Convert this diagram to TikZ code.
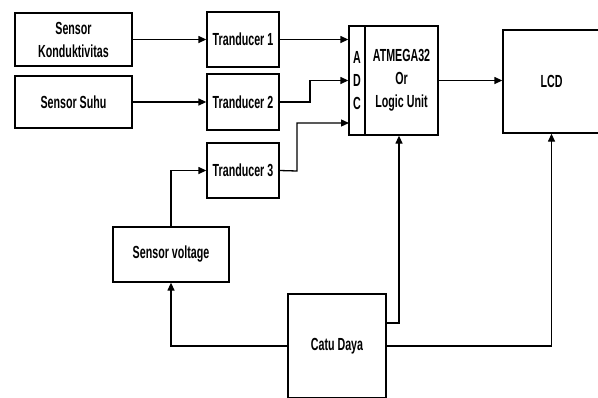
\documentclass[tikz,border=0pt]{standalone}
\usepackage{fontspec}
\newfontfamily\labfont[FakeStretch=0.61]{Liberation Sans}
\usetikzlibrary{arrows.meta}
\begin{document}
\begin{tikzpicture}[x=1pt,y=-1pt,
  box/.style={draw, line width=1.3pt, inner sep=0pt, align=center,
    font=\labfont\bfseries\fontsize{17.5}{23}\selectfont},
  arr/.style={-{Triangle[length=8pt,width=7pt]}, line width=1.3pt},
  ln/.style={line width=1.3pt}]
\useasboundingbox (0,0) rectangle (598,397);
\clip (0,0) rectangle (598,397);
\node[box, minimum width=117, minimum height=53] (sk) at (73.5,39.5) {Sensor\\Konduktivitas};
\node[box, minimum width=117, minimum height=52] (ss) at (73.5,102) {Sensor Suhu};
\node[box, minimum width=72, minimum height=55] (t1) at (243,39.5) {Tranducer 1};
\node[box, minimum width=72, minimum height=56] (t2) at (243,102) {Tranducer 2};
\node[box, minimum width=72, minimum height=55] (t3) at (243,170.5) {Tranducer 3};
\node[box, minimum width=16, minimum height=109] (adc) at (357,80.5) {A\\D\\C};
\node[box, minimum width=73, minimum height=109] (atm) at (401.5,80.5) {ATMEGA32\\Or\\Logic Unit};
\node[box, minimum width=97, minimum height=103] (lcd) at (551.5,81.5) {LCD};
\node[box, minimum width=116, minimum height=55] (sv) at (171,254.5) {Sensor voltage};
\node[box, minimum width=98, minimum height=104] (cd) at (337,346) {Catu Daya};
\coordinate (j2) at (310,102);
\coordinate (j3) at (297,171);
\coordinate (a3) at (349,123);
\coordinate (p1) at (399,323);
\draw[arr] (sk.east) -- (t1.west);
\draw[arr] (ss.east) -- (t2.west);
\draw[arr] (t1.east) -- (t1.east -| adc.west);
\draw[arr] (t2.east) -- (j2) |- (adc.west);
\draw[arr] (t3.east) -- (j3) |- (a3);
\draw[arr] (sv.north) |- (t3.west);
\draw[arr] (atm.east) -- (atm.east -| lcd.west);
\draw[arr] (cd.east |- p1) -- (p1) -- (p1 |- atm.south);
\draw[arr] (cd.east) -| (lcd.south);
\draw[arr] (cd.west) -| (sv.south);
\end{tikzpicture}
\end{document}
